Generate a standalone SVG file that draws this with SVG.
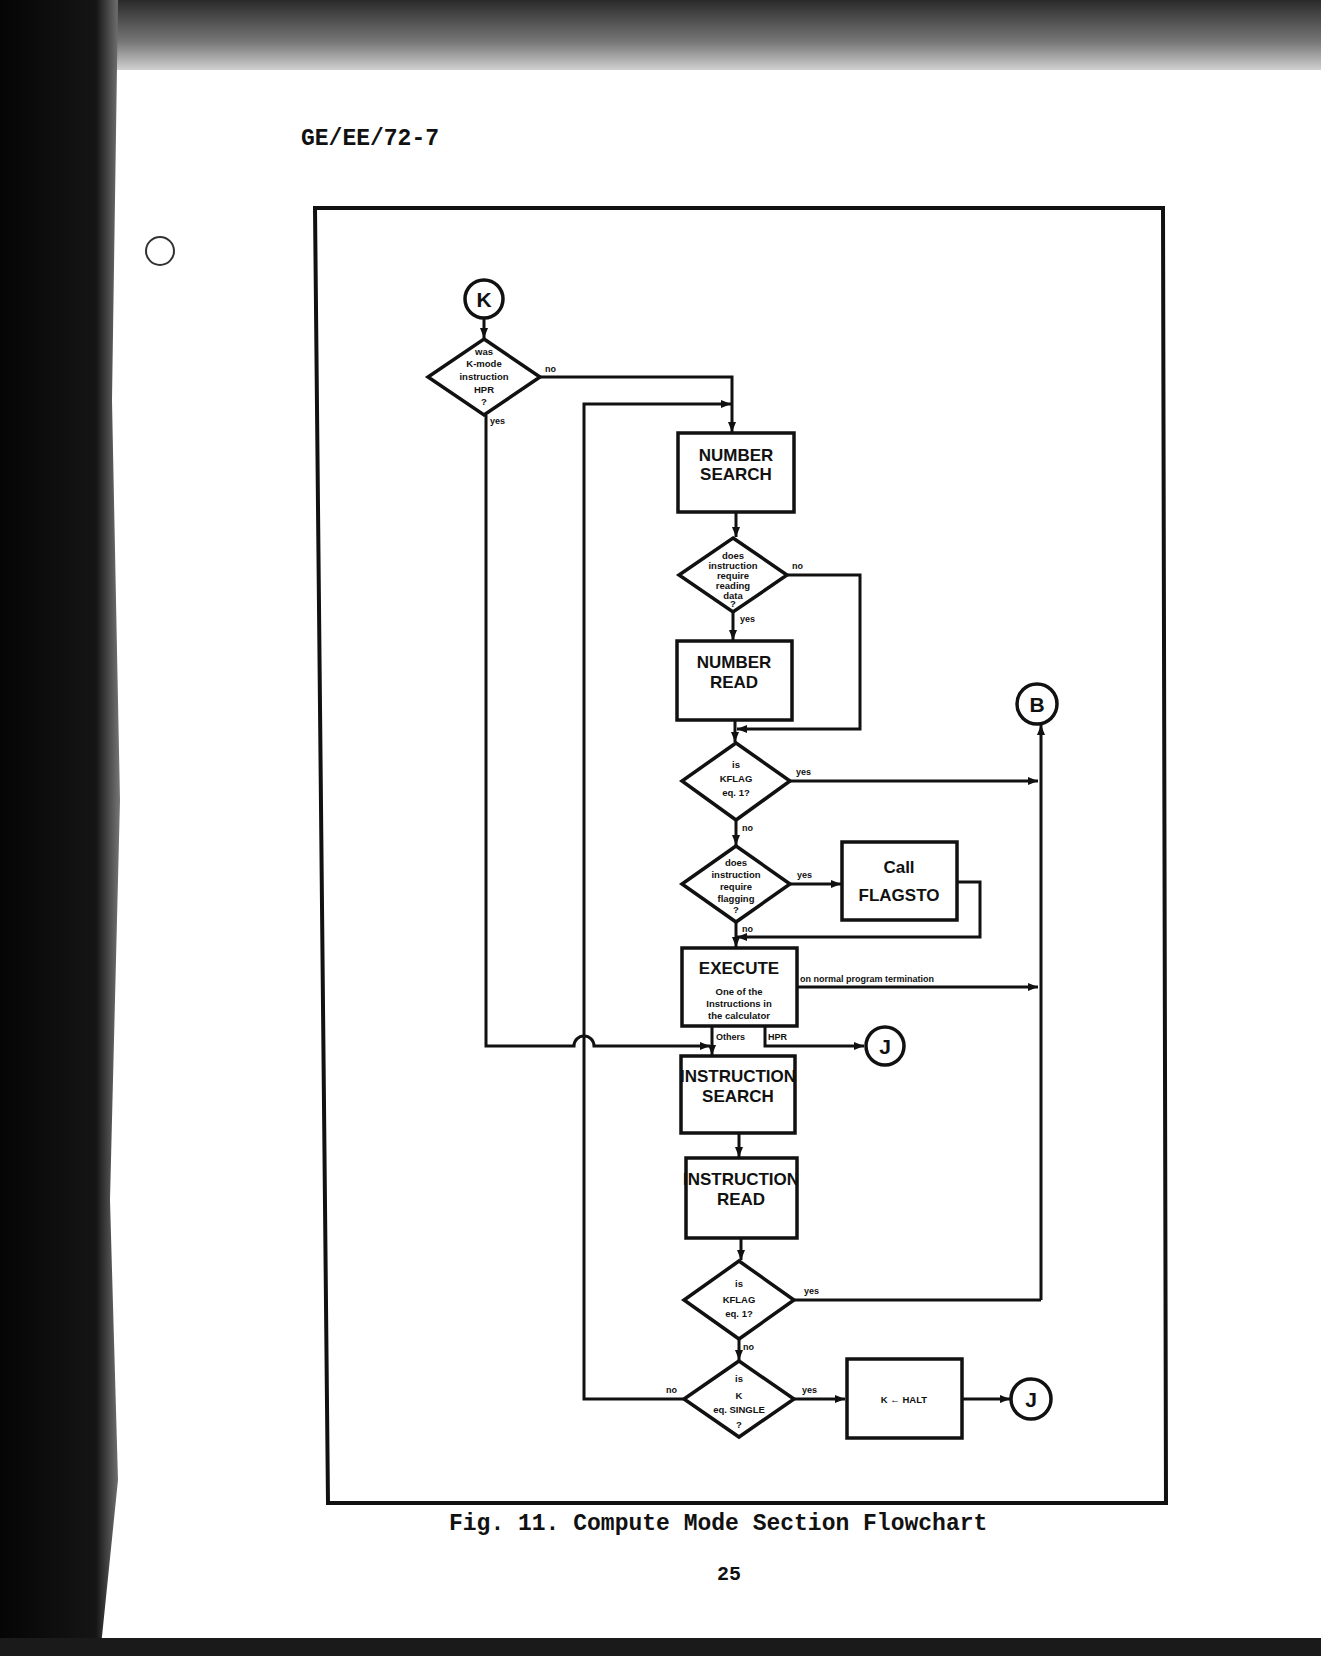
<svg xmlns="http://www.w3.org/2000/svg" width="1321" height="1656" viewBox="0 0 1321 1656">
<defs>
<style>
.ln{fill:none;stroke:#111;stroke-width:3;stroke-linejoin:miter}
.bx{fill:#fff;stroke:#111;stroke-width:3.5}
.cir{fill:#fff;stroke:#111;stroke-width:3.5}
.bt{font-family:"Liberation Sans",Arial,sans-serif;font-weight:bold;font-size:17px;fill:#111;text-anchor:middle}
.st{font-family:"Liberation Sans",Arial,sans-serif;font-weight:bold;font-size:9.5px;fill:#111;text-anchor:middle}
.lb{font-family:"Liberation Sans",Arial,sans-serif;font-weight:bold;font-size:9px;fill:#111}
.ct{font-family:"Liberation Sans",Arial,sans-serif;font-weight:bold;font-size:21px;fill:#111;text-anchor:middle}
.tw{font-family:"Liberation Mono","Courier New",monospace;font-weight:bold;fill:#111}
</style>
<marker id="ar" viewBox="0 0 10 8" refX="10" refY="4" markerWidth="10" markerHeight="8" markerUnits="userSpaceOnUse" orient="auto">
<path d="M0,0 L10,4 L0,8 z" fill="#111"/>
</marker>
<linearGradient id="topg" x1="0" y1="0" x2="0" y2="1">
<stop offset="0" stop-color="#2a2a2a"/>
<stop offset="0.6" stop-color="#777"/>
<stop offset="1" stop-color="#d0d0d0"/>
</linearGradient>
<linearGradient id="leftg" x1="0" y1="0" x2="1" y2="0">
<stop offset="0" stop-color="#050505"/>
<stop offset="0.8" stop-color="#151515"/>
<stop offset="1" stop-color="#777"/>
</linearGradient>
</defs>
<rect x="0" y="0" width="1321" height="1656" fill="#fff"/>
<g id="scan-edges">
<rect x="0" y="0" width="1321" height="70" fill="url(#topg)"/>
<path d="M0,0 L118,0 L112,400 L120,800 L110,1200 L118,1480 L100,1656 L0,1656 z" fill="url(#leftg)"/>
<rect x="0" y="1638" width="1321" height="18" fill="#1a1a1a"/>
<circle cx="160" cy="251" r="14" fill="none" stroke="#333" stroke-width="2"/>
</g>
<text class="tw" x="301" y="145" font-size="23">GE/EE/72-7</text>
<g id="frame"><path d="M315,208 L1163,208 L1166,1503 L328,1503 Z" fill="none" stroke="#111" stroke-width="4"/></g>

<g id="connectors">
<path class="ln" d="M484,319 L484,338" marker-end="url(#ar)"/>
<path class="ln" d="M540,377 L732,377 L732,432" marker-end="url(#ar)"/>
<path class="ln" d="M684,1399 L584,1399 L584,404 L731,404" marker-end="url(#ar)"/>
<path class="ln" d="M486,415 L486,1046 L574,1046 A10,10 0 0 1 594,1046 L710,1046" marker-end="url(#ar)"/>
<path class="ln" d="M736,512 L736,537" marker-end="url(#ar)"/>
<path class="ln" d="M733,612 L733,640" marker-end="url(#ar)"/>
<path class="ln" d="M787,575 L860,575 L860,729 L737,729" marker-end="url(#ar)"/>
<path class="ln" d="M735,720 L735,742" marker-end="url(#ar)"/>
<path class="ln" d="M790,781 L1038,781" marker-end="url(#ar)"/>
<path class="ln" d="M736,820 L736,845" marker-end="url(#ar)"/>
<path class="ln" d="M790,884 L841,884" marker-end="url(#ar)"/>
<path class="ln" d="M957,882 L980,882 L980,937 L737,937" marker-end="url(#ar)"/>
<path class="ln" d="M736,922 L736,947" marker-end="url(#ar)"/>
<path class="ln" d="M797,987 L1038,987" marker-end="url(#ar)"/>
<path class="ln" d="M1041,1300 L1041,725" marker-end="url(#ar)"/>
<path class="ln" d="M794,1300 L1041,1300"/>
<path class="ln" d="M712,1026 L712,1055" marker-end="url(#ar)"/>
<path class="ln" d="M765,1026 L765,1046 L864,1046" marker-end="url(#ar)"/>
<path class="ln" d="M739,1133 L739,1157" marker-end="url(#ar)"/>
<path class="ln" d="M741,1238 L741,1260" marker-end="url(#ar)"/>
<path class="ln" d="M739,1339 L739,1360" marker-end="url(#ar)"/>
<path class="ln" d="M794,1399 L845,1399" marker-end="url(#ar)"/>
<path class="ln" d="M962,1399 L1010,1399" marker-end="url(#ar)"/>
<text class="lb" x="545" y="372">no</text>
<text class="lb" x="490" y="424">yes</text>
<text class="lb" x="792" y="569">no</text>
<text class="lb" x="740" y="622">yes</text>
<text class="lb" x="796" y="775">yes</text>
<text class="lb" x="742" y="831">no</text>
<text class="lb" x="797" y="878">yes</text>
<text class="lb" x="742" y="932">no</text>
<text class="lb" x="800" y="982">on normal program termination</text>
<text class="lb" x="716" y="1040">Others</text>
<text class="lb" x="768" y="1040">HPR</text>
<text class="lb" x="804" y="1294">yes</text>
<text class="lb" x="743" y="1350">no</text>
<text class="lb" x="666" y="1393">no</text>
<text class="lb" x="802" y="1393">yes</text>
</g>

<g id="node-K"><circle class="cir" cx="484" cy="299" r="19"/><text class="ct" x="484" y="307">K</text></g>
<g id="node-d1"><path class="bx" d="M484,339 L540,377 L484,415 L428,377 Z"/>
<text class="st" x="484" y="355">was</text><text class="st" x="484" y="367">K-mode</text><text class="st" x="484" y="380">instruction</text><text class="st" x="484" y="393">HPR</text><text class="st" x="484" y="405">?</text></g>
<g id="node-number-search"><rect class="bx" x="678" y="433" width="116" height="79"/><text class="bt" x="736" y="461">NUMBER</text><text class="bt" x="736" y="480">SEARCH</text></g>
<g id="node-d2"><path class="bx" d="M733,538 L787,575 L733,612 L679,575 Z"/>
<text class="st" x="733" y="559">does</text><text class="st" x="733" y="569">instruction</text><text class="st" x="733" y="579">require</text><text class="st" x="733" y="589">reading</text><text class="st" x="733" y="599">data</text><text class="st" x="733" y="607">?</text></g>
<g id="node-number-read"><rect class="bx" x="677" y="641" width="115" height="79"/><text class="bt" x="734" y="668">NUMBER</text><text class="bt" x="734" y="688">READ</text></g>
<g id="node-B"><circle class="cir" cx="1037" cy="704" r="20"/><text class="ct" x="1037" y="712">B</text></g>
<g id="node-d3"><path class="bx" d="M736,743 L790,781 L736,820 L682,781 Z"/>
<text class="st" x="736" y="768">is</text><text class="st" x="736" y="782">KFLAG</text><text class="st" x="736" y="796">eq. 1?</text></g>
<g id="node-d4"><path class="bx" d="M736,846 L790,884 L736,922 L682,884 Z"/>
<text class="st" x="736" y="866">does</text><text class="st" x="736" y="878">instruction</text><text class="st" x="736" y="890">require</text><text class="st" x="736" y="902">flagging</text><text class="st" x="736" y="913">?</text></g>
<g id="node-call"><rect class="bx" x="842" y="842" width="115" height="78"/><text class="bt" x="899" y="873" font-size="16">Call</text><text class="bt" x="899" y="901" font-size="16">FLAGSTO</text></g>
<g id="node-execute"><rect class="bx" x="682" y="948" width="115" height="78"/><text class="bt" x="739" y="974" font-size="16">EXECUTE</text>
<text class="st" x="739" y="995" font-size="8.5">One of the</text><text class="st" x="739" y="1007" font-size="8.5">Instructions in</text><text class="st" x="739" y="1019" font-size="8.5">the calculator</text></g>
<g id="node-J1"><circle class="cir" cx="885" cy="1046" r="19"/><text class="ct" x="885" y="1054">J</text></g>
<g id="node-instruction-search"><rect class="bx" x="681" y="1056" width="114" height="77"/><text class="bt" x="738" y="1082" font-size="15">INSTRUCTION</text><text class="bt" x="738" y="1102" font-size="15">SEARCH</text></g>
<g id="node-instruction-read"><rect class="bx" x="686" y="1158" width="111" height="80"/><text class="bt" x="741" y="1185" font-size="15">INSTRUCTION</text><text class="bt" x="741" y="1205" font-size="15">READ</text></g>
<g id="node-d5"><path class="bx" d="M739,1261 L794,1300 L739,1339 L684,1300 Z"/>
<text class="st" x="739" y="1287">is</text><text class="st" x="739" y="1303">KFLAG</text><text class="st" x="739" y="1317">eq. 1?</text></g>
<g id="node-d6"><path class="bx" d="M739,1361 L794,1399 L739,1437 L684,1399 Z"/>
<text class="st" x="739" y="1382">is</text><text class="st" x="739" y="1399">K</text><text class="st" x="739" y="1413">eq. SINGLE</text><text class="st" x="739" y="1428">?</text></g>
<g id="node-halt"><rect class="bx" x="847" y="1359" width="115" height="79"/><text class="st" x="904" y="1403" font-size="12">K ← HALT</text></g>
<g id="node-J2"><circle class="cir" cx="1031" cy="1399" r="20"/><text class="ct" x="1031" y="1407">J</text></g>

<text class="tw" x="449" y="1530" font-size="23">Fig. 11.  Compute Mode Section Flowchart</text>
<text class="tw" x="729" y="1580" font-size="20" text-anchor="middle">25</text>
</svg>
